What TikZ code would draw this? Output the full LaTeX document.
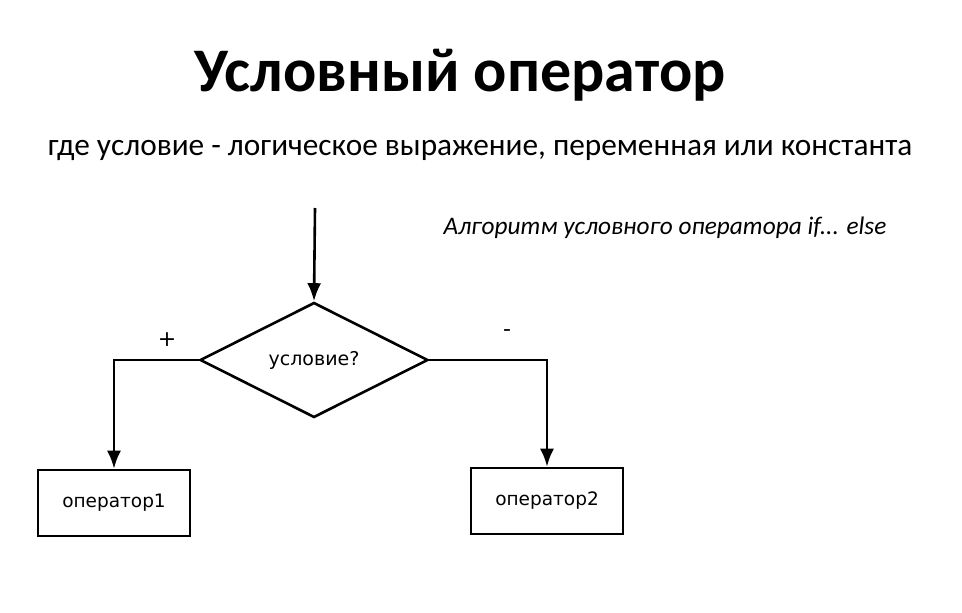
\documentclass[tikz,border=0pt]{standalone}
\usepackage{fontspec}
\setmainfont{Carlito}
\newfontfamily\diag{DejaVu Sans}
\usetikzlibrary{shapes.geometric,arrows.meta}
\begin{document}
\begin{tikzpicture}[x=1pt,y=-1pt,
  line width=2.6pt,
  arr/.style={-{Latex[length=18pt,width=14pt]}},
  opbox/.style={draw,minimum width=152pt,minimum height=66pt,inner sep=0,font=\diag\fontsize{18.5}{22}\selectfont},
  cond/.style={draw,diamond,minimum width=228pt,minimum height=115pt,inner sep=0,font=\diag\fontsize{19}{22}\selectfont}]
\useasboundingbox (0,0) rectangle (962,613);
\node[font=\bfseries\fontsize{62}{70}\selectfont] (title) at (460,75) {Условный оператор};
\node[font=\fontsize{31.3}{36}\selectfont] (sub) at (480,150) {где условие - логическое выражение, переменная или константа};
\node[anchor=west,font=\itshape\fontsize{25.3}{30}\selectfont] (cap) at (439,228) {Алгоритм условного оператора if... else};
\coordinate (start) at (315,208);
\node[cond] (c) at (314,360) {условие?};
\node[opbox] (o1) at (114,503) {оператор1};
\node[opbox] (o2) at (547,501) {оператор2};
\draw[arr] (start) -- (c.north);
\draw[arr] (c.west) -| (o1.north);
\draw[arr] (c.east) -| (o2.north);
\node[font=\diag\fontsize{22}{26}\selectfont] (plus) at (167,340) {+};
\node[font=\diag\fontsize{22}{26}\selectfont] (minus) at (507,333) {-};
\end{tikzpicture}
\end{document}
